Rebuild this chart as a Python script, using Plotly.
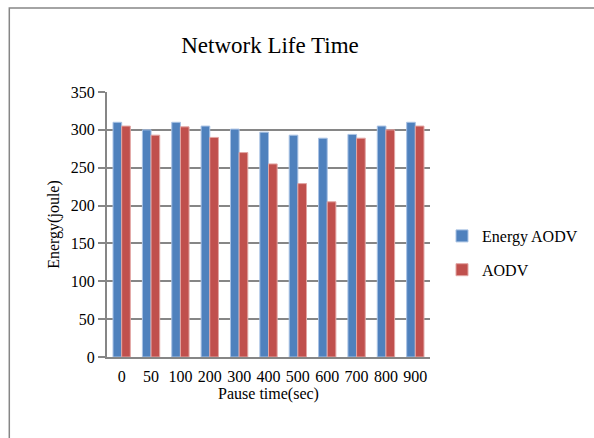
import plotly.graph_objects as go

# Pause time categories and energy readings (joule)
pause_times = ["0", "50", "100", "200", "300", "400", "500", "600", "700", "800", "900"]
energy_aodv = [310, 300, 310, 305, 301, 297, 293, 289, 294, 305, 310]
aodv = [305, 293, 304, 290, 270, 255, 229, 205, 289, 300, 305]

y_ticks = [0, 50, 100, 150, 200, 250, 300, 350]

FONT = "Liberation Serif, Times New Roman, serif"
GRID = "#868686"

fig = go.Figure()
fig.add_trace(go.Bar(
    x=pause_times, y=energy_aodv, name="Energy AODV",
    marker=dict(color="#4F81BD", line=dict(color="#A9C2E4", width=1)),
    legendgroup="a",
))
fig.add_trace(go.Bar(
    x=pause_times, y=aodv, name="AODV",
    marker=dict(color="#C0504D", line=dict(color="#E2A6A4", width=1)),
    legendgroup="b",
))

W, H = 594, 438
L, R, T, B = 107, 163, 92, 81
pw, ph = W - L - R, H - T - B


def px_x(x):
    return (x - L) / pw


def px_y(y):
    return (H - B - y) / ph


fig.update_layout(
    width=W, height=H,
    margin=dict(l=L, r=R, t=T, b=B),
    paper_bgcolor="white", plot_bgcolor="white",
    barmode="group", bargap=0.41, bargroupgap=0,
    font=dict(family=FONT, size=16, color="black"),
    title=dict(
        text="Network Life Time", font=dict(family=FONT, size=23, color="black"),
        xref="container", x=270 / W, xanchor="center",
        yref="container", y=1 - 45 / H, yanchor="middle",
    ),
    legend=dict(
        x=px_x(442), xanchor="left", y=px_y(253), yanchor="middle",
        font=dict(family=FONT, size=16, color="black"),
        tracegroupgap=10, bgcolor="rgba(0,0,0,0)",
    ),
    xaxis=dict(
        showline=True, linecolor=GRID, linewidth=2,
        ticks="", showgrid=False,
        ticklabelstandoff=4,
        tickfont=dict(family=FONT, size=16),
        title=dict(text="Pause time(sec)", font=dict(family=FONT, size=16), standoff=3),
    ),
    yaxis=dict(
        range=[0, 350], tickvals=y_ticks,
        showline=True, linecolor=GRID, linewidth=2,
        ticks="outside", ticklen=7, tickcolor=GRID, tickwidth=1.5,
        showgrid=True, gridcolor=GRID, gridwidth=1.5,
        zeroline=False,
        tickfont=dict(family=FONT, size=16),
        title=dict(text="Energy(joule)", font=dict(family=FONT, size=16), standoff=7),
    ),
    shapes=[dict(
        type="rect", xref="paper", yref="paper",
        x0=px_x(9), x1=px_x(620), y0=px_y(460), y1=px_y(8),
        line=dict(color=GRID, width=1.5), fillcolor="rgba(0,0,0,0)", layer="below",
    )],
)

fig.write_html("out.html")
